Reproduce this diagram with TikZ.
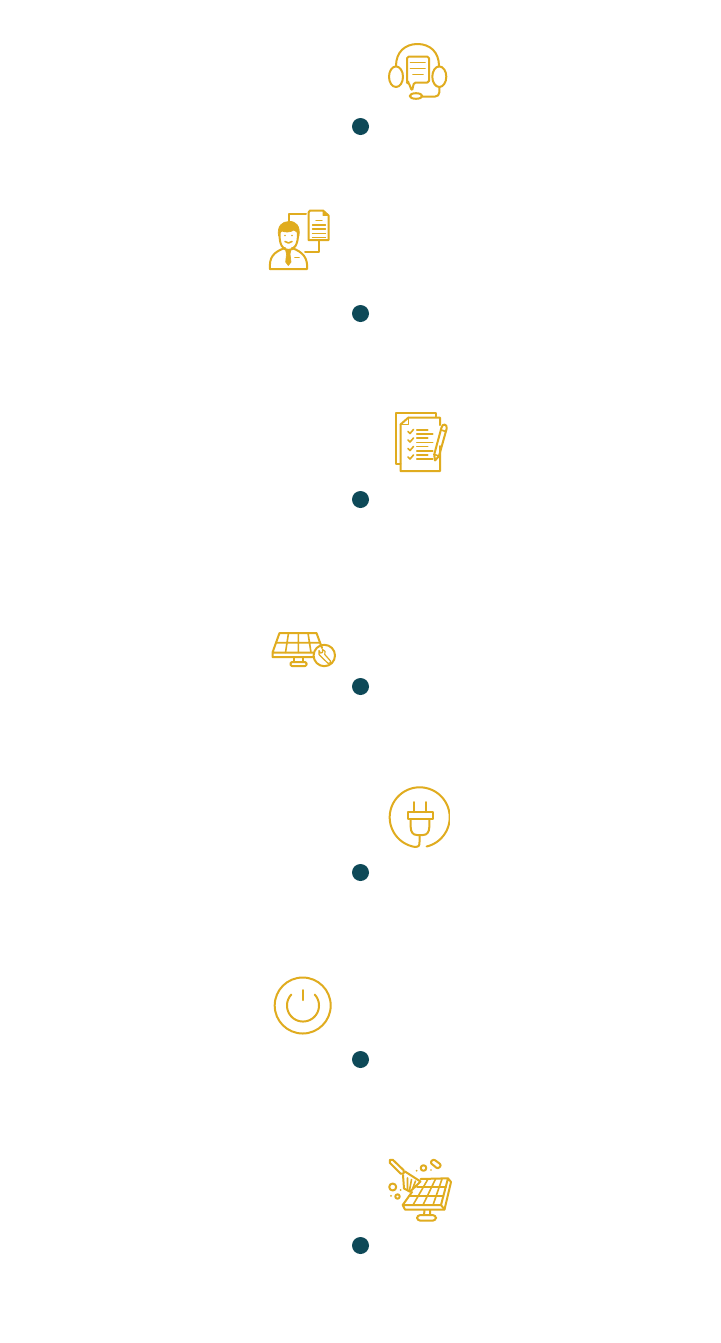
\documentclass[tikz,border=0pt]{standalone}
\definecolor{gold}{HTML}{E0AC1F}
\definecolor{teal}{HTML}{0E4958}
\tikzset{
  icon/.style={draw=gold,line width=1.5pt,line join=round,line cap=round,fill=none},
  thin icon/.style={draw=gold,line width=1.2pt,line join=round,line cap=round,fill=none},
  fine icon/.style={draw=gold,line width=.9pt,line join=round,line cap=round,fill=none},
  goldfill/.style={fill=gold,draw=gold,line width=.5pt,line join=round},
  stepdot/.style={circle,fill=teal,draw=none,minimum size=12.75pt,inner sep=0pt}
}
\begin{document}
\begin{tikzpicture}[x=0.75pt,y=-0.75pt]
\useasboundingbox (0,0) rectangle (721,1343);
\fill[white] (0,0) rectangle (721,1343);
% dots
\node[stepdot] (d1) at (360.5,126.5) {};
\node[stepdot] (d2) at (360.5,313.5) {};
\node[stepdot] (d3) at (360.5,499.5) {};
\node[stepdot] (d4) at (360.5,686.5) {};
\node[stepdot] (d5) at (360.5,872.5) {};
\node[stepdot] (d6) at (360.5,1059.5) {};
\node[stepdot] (d7) at (360.5,1245.5) {};
% 1 headset
\draw[icon] (396,66) .. controls (396,52) and (405,44) .. (417.5,44) .. controls (430,44) and (439,52) .. (439,66);
\draw[icon] (396,76.7) ellipse [x radius=7,y radius=10.3];
\draw[icon] (439.3,76.7) ellipse [x radius=7,y radius=10.3];
\draw[icon,rounded corners=1.2pt] (407,56.7) -- (429,56.7) -- (429,82.5) -- (414,82.5) -- (412,91) -- (408.5,82.5) -- (407,82.5) -- cycle;
\draw[thin icon] (410.5,62.5) -- (425,62.5) (410.5,68.5) -- (425,68.5) (413,74.5) -- (423,74.5);
\draw[icon] (416,96) ellipse [x radius=6.3,y radius=2.8];
\draw[icon,rounded corners=3pt] (439.3,87.5) -- (439.3,96.5) -- (422.5,96.5);
% 2 person with document
\draw[icon] (308.5,212.5) -- (308.5,240) -- (328.5,240) -- (328.5,215.5) -- (323,210.5) -- (310,210.5) -- (308.5,212.5);
\draw[goldfill] (323,210.5) -- (323,215.5) -- (328.5,215.5) -- cycle;
\draw[fine icon] (316,220.7) -- (322,220.7) (312.5,225) -- (325.5,225) (312.5,229) -- (325.5,229) (312.5,233.2) -- (325.5,233.2) (312.5,237.3) -- (325.5,237.3);
\draw[icon] (306,214) -- (288.5,214) -- (288.5,221);
\draw[icon] (319,240) -- (319,252) -- (305,252);
\draw[icon] (279.5,232) .. controls (279,245) and (283,250) .. (288.5,250) .. controls (294,250) and (298.5,245) .. (298,232);
\draw[goldfill] (278.5,236) .. controls (277,226) and (282,221.5) .. (289,221.5) .. controls (296,221) and (300.5,226) .. (299,236) .. controls (297.5,232) and (296,231) .. (294,230) .. controls (290,232.5) and (285,232.5) .. (282,231) .. controls (280.5,232) and (279.5,233) .. (278.5,236) -- cycle;
\fill[gold] (285,235.5) circle [radius=.9] (292,235.5) circle [radius=.9];
\draw[thin icon] (285,241.5) .. controls (287,243.5) and (290,243.5) .. (292,241.5);
\draw[icon] (270,269) .. controls (269,258) and (273,252) .. (285,248);
\draw[icon] (292,248) .. controls (303,252) and (308,258) .. (307,269) -- (270,269);
\draw[goldfill] (285.5,249.5) -- (291,249.5) -- (290,254) -- (291,262) -- (288.3,265.5) -- (285.7,262) -- (286.5,254) -- cycle;
\draw[thin icon] (295,257.5) -- (299,257.5);
% 3 checklist
\draw[icon] (435.7,416.5) -- (435.7,412.7) -- (395.7,412.7) -- (395.7,463.5) -- (400.5,463.5);
\draw[icon] (440,425) -- (440,417.5) -- (408.5,417.5) -- (400.5,424.5) -- (400.5,471) -- (440,471) -- (440,446);
\draw[thin icon] (408.5,417.5) -- (408.5,424.5) -- (400.5,424.5);
\foreach \y in {431.5,440,448.5,457}{
  \draw[thin icon] (408,\y) -- (410,\y+2) -- (413.5,\y-2);
}
\foreach \y in {430,438,446.5,454.7}{\draw[thin icon] (416.8,\y) -- (427.7,\y);}
\foreach \y in {434,442.3,450.7,458.7}{\draw[thin icon] (416.8,\y) -- (432.7,\y);}
\draw[icon] (434.2,454.5) -- (441.5,427.5) .. controls (442.5,423) and (447.5,424) .. (446.7,428.5) -- (439,456) -- (435,460.5) -- cycle;
\draw[thin icon] (441.3,430) -- (445.8,431.5) (434.3,454.5) -- (439,456);
% 4 solar panel with wrench
\draw[icon] (279.5,633) -- (316.5,633) -- (322,648) (279.5,633) -- (272.5,652.5) -- (272.5,657) -- (313,657) (272.5,652.5) -- (313,652.5);
\draw[thin icon] (275.8,642.7) -- (319,642.7) (288.5,633) -- (285.5,652.5) (298.3,633) -- (298.3,652.5) (308,633) -- (311,652.5);
\draw[icon] (294,657) -- (294,662) (303,657) -- (303,662);
\draw[icon,rounded corners=1pt] (290.5,662) rectangle (306.5,666);
\draw[icon] (324.3,655.5) circle [radius=10.7];
\draw[fine icon] (319,650.5) .. controls (318,653) and (319,656) .. (321.5,657) -- (328,663.3) .. controls (329.5,664) and (331.5,662.5) .. (330.5,661) -- (324.8,654.5) .. controls (325.8,652) and (325,650) .. (322.5,649.5) -- (322.5,652.5) -- (320.5,653) -- cycle;
% 5 plug
\begin{scope}
\clip (380,780) rectangle (449.8,855);
\draw[icon] (415,847) .. controls (419,846.5) and (419.5,846) .. (419.5,842) -- (419.5,835);
\draw[icon] plot[domain=261:-76.6,samples=120] ({419.7+30*cos(\x)},{817.3-30*sin(\x)});
\end{scope}
\draw[icon] (413.5,802) -- (413.5,812) (426,802) -- (426,812);
\draw[icon] (407.5,812.3) rectangle (432.7,819.3);
\draw[icon] (410.7,819.3) -- (410.7,827) .. controls (410.7,832) and (413,835) .. (417,835) -- (423,835) .. controls (427,835) and (429.3,832) .. (429.3,827) -- (429.3,819.3);
% 6 power
\draw[icon] (302.7,1005.5) circle [radius=28];
\draw[icon] plot[domain=137:403,samples=80] ({303+16*cos(\x)},{1005.5-16*sin(\x)});
\draw[icon] (303,990) -- (303,1000);
% 7 cleaning solar panel
\draw[icon,rounded corners=1.4pt] (388.5,1161.5) -- (391.5,1158.5) -- (405,1171.5) -- (402,1175) -- cycle;
\draw[icon] (403,1175) -- (404,1188.5) -- (410,1191.7) -- (420.5,1181.5) -- (405,1171.5);
\draw[thin icon] (407.5,1178) -- (407.5,1189.5) (411.5,1179.5) -- (409.5,1190.5) (415.5,1181) -- (412.5,1189);
\draw[icon] (420.5,1179) -- (448,1178.3) -- (451,1182) -- (444.5,1209.5) -- (405,1209.5) -- (402.7,1205) -- (441,1205) -- (448,1178.3);
\draw[icon] (441,1205) -- (444.5,1209.5);
\draw[icon] (402.7,1205) -- (412,1192);
\draw[thin icon] (417,1187) -- (446,1187) (409,1196) -- (443.5,1196);
\draw[thin icon] (428,1179) -- (413,1205) (435.5,1179) -- (423,1205) (442,1179) -- (433,1205);
\draw[icon] (424.5,1210) -- (424,1215) (430,1210) -- (430,1215);
\draw[icon,rounded corners=2.5pt] (417,1215) rectangle (436,1220.7);
\draw[icon] (392.7,1187) circle [radius=3.5];
\draw[icon] (397.5,1196.5) circle [radius=2.2];
\draw[icon] (423.5,1168) circle [radius=2.8];
\draw[icon,rounded corners=1.6pt] (430,1162.5) -- (433.5,1159) -- (441.5,1165) -- (438,1169) -- cycle;
\fill[gold] (391,1195.8) circle [radius=1] (416.7,1170.7) circle [radius=1] (400.7,1190) circle [radius=1] (431,1170) circle [radius=.9];
\end{tikzpicture}
\end{document}
